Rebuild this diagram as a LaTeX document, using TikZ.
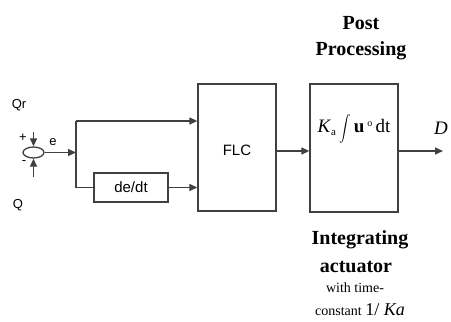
\documentclass[tikz,border=0pt]{standalone}
\usepackage{graphicx}
\usepackage{fontspec}
\setmainfont{Liberation Serif}
\newfontfamily\arialfont{Liberation Sans}
\usetikzlibrary{arrows.meta, positioning, shapes.geometric}

\begin{document}
\begin{tikzpicture}[x=1pt, y=-1pt, line width=1.3pt,
  wire/.style={draw=black!75},
  sig/.style={draw=black!75, -{Triangle[length=8pt, width=7pt]}},
  block/.style={rectangle, draw=black!75, inner sep=0pt},
  sans/.style={inner sep=0pt, font=\arialfont\fontsize{13}{13}\selectfont},
  heading/.style={inner sep=0pt, font=\bfseries\fontsize{20}{20}\selectfont},
  remark/.style={inner sep=0pt, font=\fontsize{14}{14}\selectfont}]
\useasboundingbox (0,0) rectangle (451,322);
% summing point and its inputs
\node[ellipse, draw=black!75, minimum width=21pt, minimum height=11pt, inner sep=0pt] (sum) at (33.5,152.5) {};
\coordinate (qrin) at (33.5,132);
\coordinate (qin) at (33.5,177);
\node[sans] (qrlabel) at (19,105) {Qr};
\node[sans] (qlabel) at (18,205) {Q};
\node[sans] (plus) at (23,138) {+};
\node[sans] (minus) at (24,163) {-};
\node[sans] (elabel) at (53,142) {e};
% blocks
\node[block, minimum width=78pt, minimum height=127pt] (flc) at (237,147.5) {};
\node[sans, font=\arialfont\fontsize{15}{15}\selectfont] (flclabel) at (237,150) {FLC};
\node[block, minimum width=74pt, minimum height=29pt, font=\arialfont\fontsize{15}{15}\selectfont] (dedt) at (131,187.5) {de/dt};
\node[block, minimum width=88pt, minimum height=128pt] (post) at (354,148) {};
\node[inner sep=0pt, font=\fontsize{19}{19}\selectfont] (intg) at (354,129) {\textit{K}\raisebox{-3pt}{\fontsize{11}{11}\selectfont a}\,\raisebox{-2pt}{\scalebox{1.15}[1.3]{$\displaystyle\int$}}\,\textbf{u}\,\raisebox{6pt}{\fontsize{10}{10}\selectfont o}\,dt};
% branch points
\coordinate (split) at (76,152.5);
\coordinate (upper) at (76,121);
\coordinate (lower) at (76,187.5);
\coordinate (out) at (443,151);
% connections
\draw[sig] (qrin) -- (sum.north);
\draw[sig] (qin) -- (sum.south);
\draw[sig] (sum.east) -- (split);
\draw[wire] (upper) -- (lower);
\draw[sig] (upper) -- (upper -| flc.west);
\draw[wire] (lower) -- (dedt.west);
\draw[sig] (dedt.east) -- (dedt.east -| flc.west);
\draw[sig] (flc.east |- out) -- (post.west |- out);
\draw[sig] (post.east |- out) -- (out);
\node[inner sep=0pt, font=\itshape\fontsize{19}{19}\selectfont] (dlabel) at (441,128) {D};
% captions
\node[heading] (posttitle) at (361,23) {Post};
\node[heading] (proctitle) at (361,51) {Processing};
\node[heading] (intgtitle) at (360,240) {Integrating};
\node[heading] (acttitle) at (356,267) {actuator};
\node[remark] (timeline) at (355,288) {with time-};
\node[remark] (constline) at (360,310) {constant {\fontsize{18}{18}\selectfont 1/ \textit{Ka}}};
\end{tikzpicture}
\end{document}
